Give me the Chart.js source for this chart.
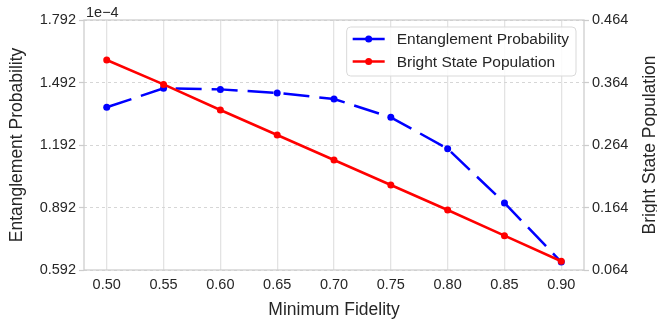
<!DOCTYPE html>
<html>
<head>
<meta charset="utf-8">
<script src="https://cdn.jsdelivr.net/npm/chart.js@4"></script>
<style>
    html, body { margin: 0; padding: 0; background: #ffffff; }
    #wrap { width: 657px; height: 327px; position: relative; }
</style>
</head>
<body>
<div id="wrap"><canvas id="chart" width="657" height="327"></canvas></div>
<script>
const fidelity = [0.50, 0.55, 0.60, 0.65, 0.70, 0.75, 0.80, 0.85, 0.90];
const entanglement = [1.373e-4, 1.464e-4, 1.459e-4, 1.442e-4, 1.413e-4, 1.325e-4, 1.174e-4, 0.914e-4, 0.630e-4];
const brightPop = [0.400, 0.361, 0.320, 0.280, 0.240, 0.200, 0.160, 0.119, 0.078];

const xTicks = [0.50, 0.55, 0.60, 0.65, 0.70, 0.75, 0.80, 0.85, 0.90];
const leftTicks = [0.592e-4, 0.892e-4, 1.192e-4, 1.492e-4, 1.792e-4];
const rightTicks = [0.064, 0.164, 0.264, 0.364, 0.464];

const seriesNames = ['Entanglement Probability', 'Bright State Population'];

document.addEventListener('DOMContentLoaded', () => {
    const FONT = 'Liberation Sans, Arial, sans-serif';
    const textColor = '#262626';
    const spineColor = '#cccccc';

    const toPoints = (xs, ys) => xs.map((x, i) => ({ x: x, y: ys[i] }));

    // box around plot area, 1e-4 offset label, right axis title (reads upward like matplotlib)
    const framePlugin = {
        id: 'frame',
        beforeDatasetsDraw(chart) {
            const { ctx, chartArea: a } = chart;
            ctx.save();
            ctx.strokeStyle = spineColor;
            ctx.lineWidth = 1.25;
            ctx.strokeRect(a.left, a.top, a.right - a.left, a.bottom - a.top);
            ctx.restore();
        },
        afterDraw(chart) {
            const { ctx, chartArea: a, width } = chart;
            ctx.save();
            ctx.fillStyle = textColor;
            ctx.font = '14.5px ' + FONT;
            ctx.textAlign = 'left';
            ctx.textBaseline = 'alphabetic';
            ctx.fillText('1e\u22124', a.left + 2, a.top - 3);

            ctx.font = '17.5px ' + FONT;
            ctx.translate(width - 7, (a.top + a.bottom) / 2);
            ctx.rotate(-Math.PI / 2);
            ctx.textAlign = 'center';
            ctx.textBaseline = 'middle';
            ctx.fillText(seriesNames[1], 0, 0);
            ctx.restore();
        }
    };

    const legendPlugin = {
        id: 'boxLegend',
        afterDatasetsDraw(chart) {
            const { ctx, chartArea: a } = chart;
            ctx.save();
            ctx.font = '15.5px ' + FONT;
            const textW = Math.max(...seriesNames.map(n => ctx.measureText(n).width));
            const w = 50 + textW + 7;
            const h = 49;
            const right = a.right - 8;
            const left = right - w;
            const top = a.top + 7;

            ctx.beginPath();
            ctx.roundRect(left, top, w, h, 4);
            ctx.fillStyle = 'rgba(255,255,255,0.85)';
            ctx.fill();
            ctx.strokeStyle = '#d9d9d9';
            ctx.lineWidth = 1;
            ctx.stroke();

            chart.data.datasets.forEach((ds, i) => {
                const y = top + 12 + i * 22.5;
                ctx.strokeStyle = ds.borderColor;
                ctx.lineWidth = ds.borderWidth;
                ctx.setLineDash([]);
                ctx.beginPath();
                ctx.moveTo(left + 6, y);
                ctx.lineTo(left + 38, y);
                ctx.stroke();
                ctx.beginPath();
                ctx.arc(left + 22, y, 3.5, 0, Math.PI * 2);
                ctx.fillStyle = ds.borderColor;
                ctx.fill();
                ctx.fillStyle = textColor;
                ctx.textAlign = 'left';
                ctx.textBaseline = 'middle';
                ctx.fillText(ds.label, left + 50, y + 1);
            });
            ctx.restore();
        }
    };

    const ctx = document.getElementById('chart').getContext('2d');
    new Chart(ctx, {
        type: 'line',
        data: {
            datasets: [
                {
                    label: seriesNames[0],
                    data: toPoints(fidelity, entanglement),
                    yAxisID: 'y',
                    borderColor: '#0000ff',
                    backgroundColor: '#0000ff',
                    borderWidth: 2.5,
                    borderDash: [26, 10],
                    pointRadius: 3.5,
                    pointBorderWidth: 0,
                    tension: 0,
                    order: 1
                },
                {
                    label: seriesNames[1],
                    data: toPoints(fidelity, brightPop),
                    yAxisID: 'y1',
                    borderColor: '#ff0000',
                    backgroundColor: '#ff0000',
                    borderWidth: 2.5,
                    pointRadius: 3.5,
                    pointBorderWidth: 0,
                    tension: 0,
                    order: 0
                }
            ]
        },
        options: {
            responsive: false,
            animation: false,
            layout: { padding: { top: 20, left: 0, right: 0, bottom: 0 } },
            plugins: {
                legend: { display: false },
                tooltip: { enabled: false }
            },
            scales: {
                x: {
                    type: 'linear',
                    min: 0.48,
                    max: 0.92,
                    afterBuildTicks: s => { s.ticks = xTicks.map(v => ({ value: v })); },
                    afterFit: s => { s.height = 57; },
                    border: { display: false },
                    grid: { color: '#e3e3e3', lineWidth: 1.3, drawTicks: false },
                    ticks: {
                        padding: 6,
                        color: textColor,
                        font: { family: FONT, size: 14.5 },
                        callback: v => v.toFixed(2)
                    },
                    title: {
                        display: true,
                        text: 'Minimum Fidelity',
                        color: textColor,
                        font: { family: FONT, size: 17.5 },
                        padding: { top: 0, bottom: 6 }
                    }
                },
                y: {
                    position: 'left',
                    min: leftTicks[0],
                    max: leftTicks[leftTicks.length - 1],
                    afterBuildTicks: s => { s.ticks = leftTicks.map(v => ({ value: v })); },
                    afterFit: s => { s.width = 84; },
                    border: { display: false, dash: [3, 3] },
                    grid: {
                        color: '#d6d6d6',
                        lineWidth: 1,
                        tickColor: spineColor,
                        tickLength: 5,
                        tickWidth: 1.25,
                        tickBorderDash: []
                    },
                    ticks: {
                        padding: 3,
                        color: textColor,
                        font: { family: FONT, size: 14.5 },
                        callback: v => (v * 1e4).toFixed(3)
                    },
                    title: {
                        display: true,
                        text: seriesNames[0],
                        color: textColor,
                        font: { family: FONT, size: 17.5 },
                        padding: { top: 7, bottom: 0 }
                    }
                },
                y1: {
                    position: 'right',
                    min: rightTicks[0],
                    max: rightTicks[rightTicks.length - 1],
                    afterBuildTicks: s => { s.ticks = rightTicks.map(v => ({ value: v })); },
                    afterFit: s => { s.width = 73; },
                    border: { display: false },
                    grid: {
                        drawOnChartArea: false,
                        tickColor: spineColor,
                        tickLength: 5,
                        tickWidth: 1.25
                    },
                    ticks: {
                        padding: 3,
                        color: textColor,
                        font: { family: FONT, size: 14.5 },
                        callback: v => v.toFixed(3)
                    }
                }
            }
        },
        plugins: [framePlugin, legendPlugin]
    });
});
</script>
</body>
</html>
